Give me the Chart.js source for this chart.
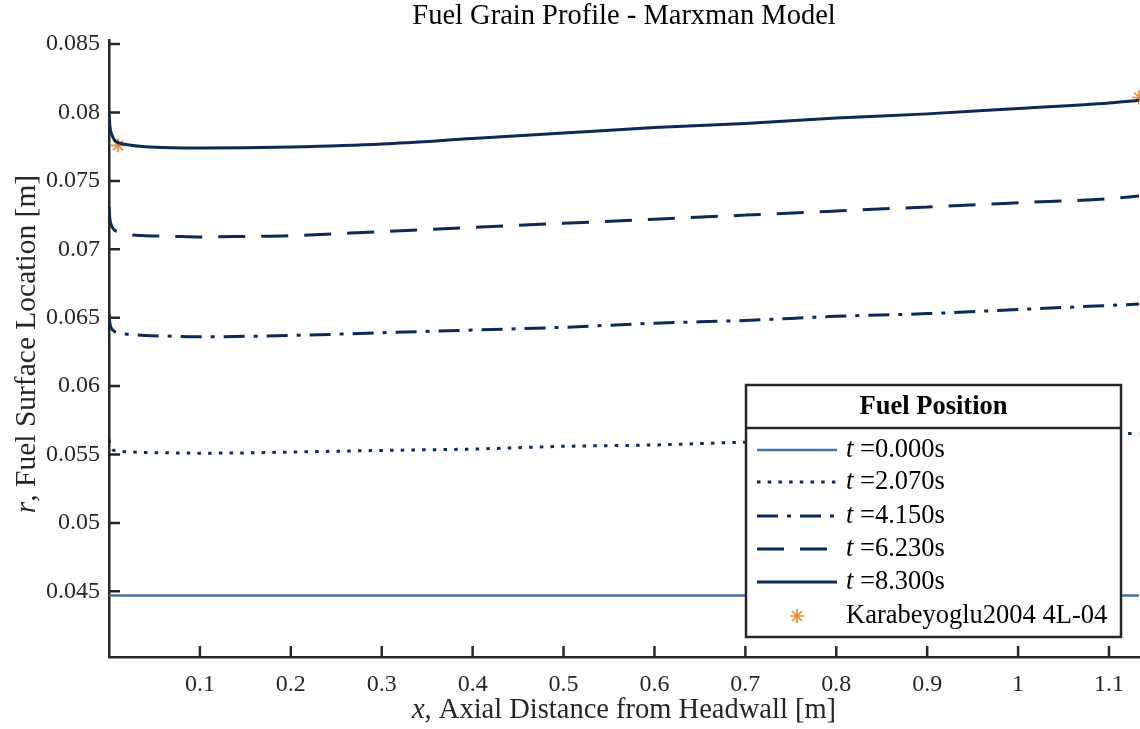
<!DOCTYPE html>
<html>
<head>
<meta charset="utf-8">
<title>Fuel Grain Profile - Marxman Model</title>
<script src="https://cdn.jsdelivr.net/npm/chart.js@4/dist/chart.umd.min.js"></script>
<style>
  html, body { margin: 0; padding: 0; background: #fff; overflow: hidden; }
  #wrap { width: 1140px; height: 729px; position: relative; }
</style>
</head>
<body>
<div id="wrap"><canvas id="grainChart"></canvas></div>
<script>
/* ---------- Data ---------- */
const xPos  = [0, 0.001, 0.003, 0.006, 0.01, 0.02, 0.04, 0.07, 0.1, 0.15, 0.2, 0.3, 0.4, 0.5, 0.6, 0.7, 0.8, 0.9, 1.0, 1.1, 1.133];
const rT000 = [0.0447, 0.0447, 0.0447, 0.0447, 0.0447, 0.0447, 0.0447, 0.0447, 0.0447, 0.0447, 0.0447, 0.0447, 0.0447, 0.0447, 0.0447, 0.0447, 0.0447, 0.0447, 0.0447, 0.0447, 0.0447];
const rT207 = [0.0561, 0.0557, 0.0554, 0.0553, 0.05525, 0.0552, 0.05515, 0.05512, 0.0551, 0.05512, 0.05518, 0.0553, 0.0554, 0.0556, 0.0557, 0.0559, 0.0560, 0.0562, 0.0563, 0.0565, 0.05656];
const rT415 = [0.0653, 0.0646, 0.0642, 0.0640, 0.0639, 0.0638, 0.0637, 0.06365, 0.0636, 0.06364, 0.0637, 0.0639, 0.0641, 0.0643, 0.0646, 0.0648, 0.0651, 0.0653, 0.0656, 0.0659, 0.0660];
const rT623 = [0.0731, 0.0722, 0.0717, 0.0714, 0.0713, 0.0711, 0.0710, 0.07095, 0.0709, 0.07094, 0.0710, 0.0713, 0.0716, 0.0719, 0.0722, 0.0725, 0.0728, 0.0731, 0.0734, 0.0737, 0.0739];
const rT830 = [0.0800, 0.0790, 0.0784, 0.0780, 0.0778, 0.07765, 0.0775, 0.07742, 0.0774, 0.07742, 0.07748, 0.0777, 0.0781, 0.0785, 0.0789, 0.0792, 0.0796, 0.0799, 0.0803, 0.0807, 0.0809];
const refX  = [0.0099, 1.133];
const refR  = [0.0776, 0.0811];
const timeLabels = ["0.000", "2.070", "4.150", "6.230", "8.300"];
const refLabel = "Karabeyoglu2004 4L-04";
const xTicks = [0.1, 0.2, 0.3, 0.4, 0.5, 0.6, 0.7, 0.8, 0.9, 1, 1.1];
const yTicks = [0.045, 0.05, 0.055, 0.06, 0.065, 0.07, 0.075, 0.08, 0.085];

/* ---------- Styles ---------- */
const NAVY = "#0b2a55";
const STEEL = "#4a70a8";
const ORANGE = "#f2892e";
const AXIS = "#262626";
const SERIF = "'Liberation Serif', 'Times New Roman', serif";

function pts(xs, ys) {
    return xs.map((x, i) => ({ x: x, y: ys[i] }));
}

const lineStyles = [
    { color: STEEL, dash: [], width: 2.5 },
    { color: NAVY, dash: [3.5, 7.2], width: 3 },
    { color: NAVY, dash: [21, 9, 4, 9], width: 3 },
    { color: NAVY, dash: [27, 16], width: 3 },
    { color: NAVY, dash: [], width: 3 }
];
const series = [rT000, rT207, rT415, rT623, rT830];

const datasets = series.map((ys, i) => ({
    label: "t =" + timeLabels[i] + "s",
    data: pts(xPos, ys),
    borderColor: lineStyles[i].color,
    borderWidth: lineStyles[i].width,
    borderDash: lineStyles[i].dash,
    borderCapStyle: "butt",
    pointRadius: 0,
    cubicInterpolationMode: "monotone",
    fill: false
}));

datasets.push({
    label: refLabel,
    data: pts(refX, refR),
    showLine: false,
    pointStyle: "star",
    pointRadius: 7,
    pointBorderWidth: 1.6,
    pointBorderColor: ORANGE,
    pointBackgroundColor: ORANGE,
    clip: false
});

/* ---------- Custom drawing: title, axis titles, inner ticks, legend ---------- */
function mixedText(ctx, parts, cx, cy) {
    let total = 0;
    parts.forEach(p => { ctx.font = p.font; total += ctx.measureText(p.text).width; });
    let x = cx - total / 2;
    parts.forEach(p => {
        ctx.font = p.font;
        ctx.fillText(p.text, x, cy);
        x += ctx.measureText(p.text).width;
    });
}

const decorations = {
    id: "decorations",
    afterDraw(chart) {
        const ctx = chart.ctx;
        const area = chart.chartArea;
        const xs = chart.scales.x;
        const ys = chart.scales.y;

        ctx.save();
        // inward tick marks
        ctx.strokeStyle = AXIS;
        ctx.lineWidth = 2.5;
        ctx.beginPath();
        xTicks.forEach(v => {
            const px = xs.getPixelForValue(v);
            ctx.moveTo(px, area.bottom);
            ctx.lineTo(px, area.bottom - 11);
        });
        yTicks.forEach(v => {
            const py = ys.getPixelForValue(v);
            ctx.moveTo(area.left, py);
            ctx.lineTo(area.left + 11, py);
        });
        ctx.stroke();

        // title and axis titles
        ctx.fillStyle = "#000";
        ctx.textBaseline = "middle";
        ctx.textAlign = "center";
        ctx.font = "28.5px " + SERIF;
        ctx.fillText("Fuel Grain Profile - Marxman Model", (area.left + area.right) / 2, 17);

        ctx.textAlign = "left";
        ctx.fillStyle = AXIS;
        mixedText(ctx, [
            { text: "x", font: "italic 28.5px " + SERIF },
            { text: ", Axial Distance from Headwall [m]", font: "28.5px " + SERIF }
        ], (area.left + area.right) / 2, 711);

        ctx.save();
        ctx.translate(27, 344);
        ctx.rotate(-Math.PI / 2);
        mixedText(ctx, [
            { text: "r", font: "italic 29.5px " + SERIF },
            { text: ", Fuel Surface Location [m]", font: "29.5px " + SERIF }
        ], 0, 0);
        ctx.restore();

        // legend box
        const lx = 746, ly = 385, lw = 375, lh = 252;
        ctx.fillStyle = "#fff";
        ctx.fillRect(lx, ly, lw, lh);
        ctx.strokeStyle = AXIS;
        ctx.lineWidth = 2.5;
        ctx.strokeRect(lx, ly, lw, lh);
        ctx.beginPath();
        ctx.moveTo(lx, 428);
        ctx.lineTo(lx + lw, 428);
        ctx.stroke();

        ctx.fillStyle = "#000";
        ctx.textAlign = "center";
        ctx.font = "bold 26.5px " + SERIF;
        ctx.fillText("Fuel Position", lx + lw / 2, 407);

        const rowY = [450, 482, 516, 549, 582, 616];
        chart.data.datasets.forEach((ds, i) => {
            const y = rowY[i];
            if (ds.showLine === false) {
                ctx.strokeStyle = ORANGE;
                ctx.fillStyle = ORANGE;
                ctx.lineWidth = 1.6;
                Chart.helpers.drawPoint(ctx, { pointStyle: "star", radius: 7, borderWidth: 1.6 }, 797, y);
            } else {
                ctx.strokeStyle = ds.borderColor;
                ctx.lineWidth = ds.borderWidth;
                ctx.setLineDash(ds.borderDash);
                ctx.beginPath();
                ctx.moveTo(757, y);
                ctx.lineTo(837, y);
                ctx.stroke();
                ctx.setLineDash([]);
            }
            ctx.fillStyle = "#000";
            ctx.textAlign = "left";
            if (ds.showLine === false) {
                ctx.font = "26.5px " + SERIF;
                ctx.fillText(ds.label, 846, y);
            } else {
                ctx.font = "italic 26.5px " + SERIF;
                ctx.fillText("t", 846, y);
                const w = ctx.measureText("t ").width;
                ctx.font = "26.5px " + SERIF;
                ctx.fillText(ds.label.slice(2), 846 + w, y);
            }
        });
        ctx.restore();
    }
};

/* ---------- Chart ---------- */
new Chart(document.getElementById("grainChart"), {
    type: "line",
    data: { datasets: datasets },
    options: {
        responsive: true,
        maintainAspectRatio: false,
        animation: false,
        layout: { autoPadding: false, padding: { top: 40, right: 1, left: 0, bottom: 0 } },
        plugins: {
            legend: { display: false },
            title: { display: false },
            tooltip: { enabled: false }
        },
        scales: {
            x: {
                type: "linear",
                min: 0,
                max: 1.133,
                afterBuildTicks: s => { s.ticks = xTicks.map(v => ({ value: v })); },
                afterFit: s => { s.height = 72; s.paddingRight = 0; s.paddingLeft = 0; },
                grid: { display: false, drawTicks: false },
                border: { display: true, color: AXIS, width: 2.5 },
                ticks: {
                    color: AXIS,
                    padding: 13,
                    maxRotation: 0,
                    autoSkip: false,
                    font: { family: SERIF, size: 24 },
                    callback: v => String(Math.round(v * 10) / 10)
                }
            },
            y: {
                type: "linear",
                min: 0.0402,
                max: 0.0853,
                afterBuildTicks: s => { s.ticks = yTicks.map(v => ({ value: v })); },
                afterFit: s => { s.width = 109; s.paddingTop = 0; s.paddingBottom = 0; },
                grid: { display: false, drawTicks: false },
                border: { display: true, color: AXIS, width: 2.5 },
                ticks: {
                    color: AXIS,
                    padding: 9,
                    autoSkip: false,
                    font: { family: SERIF, size: 24 },
                    callback: v => String(Math.round(v * 1000) / 1000)
                }
            }
        }
    },
    plugins: [decorations]
});
</script>
</body>
</html>
